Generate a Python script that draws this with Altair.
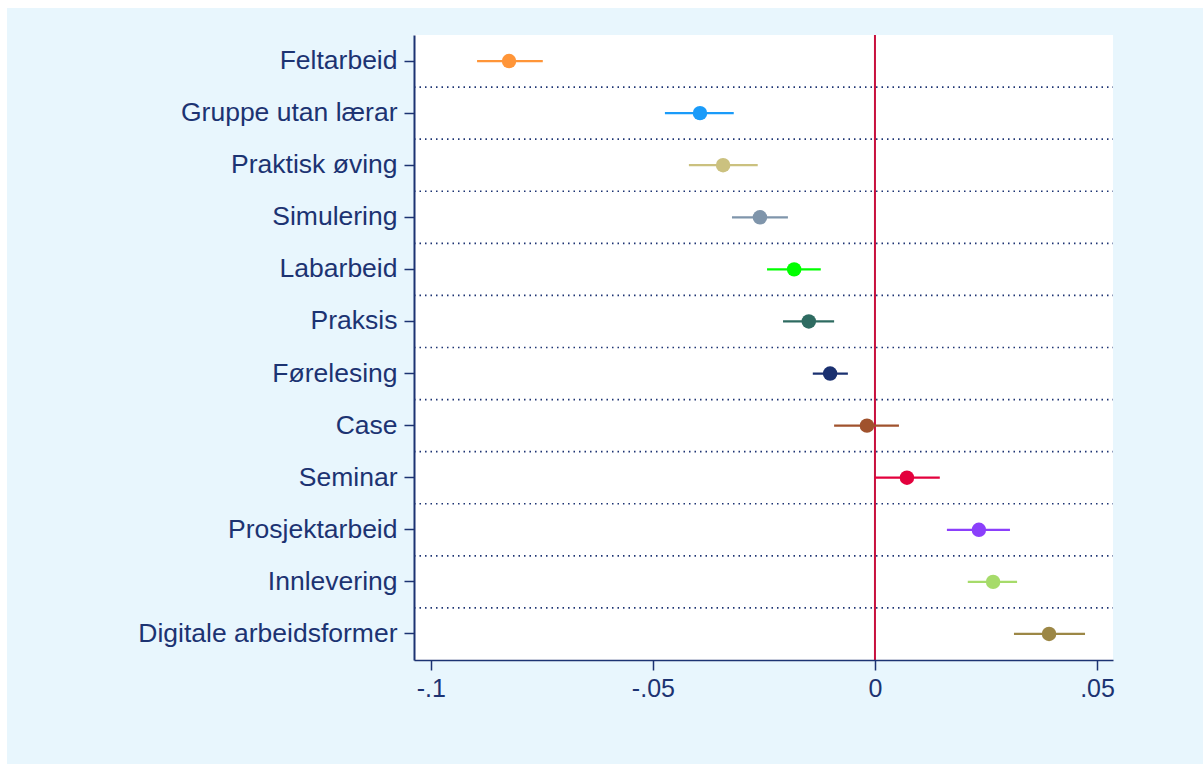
import altair as alt
import pandas as pd

categories = ["Feltarbeid", "Gruppe utan lærar", "Praktisk øving", "Simulering",
              "Labarbeid", "Praksis", "Førelesing", "Case", "Seminar",
              "Prosjektarbeid", "Innlevering", "Digitale arbeidsformer"]
estimates = [-0.0824, -0.0394, -0.0342, -0.0259, -0.0182, -0.0149, -0.0101,
             -0.0018, 0.0072, 0.0234, 0.0266, 0.0392]
ci_low = [-0.0896, -0.0473, -0.0419, -0.0322, -0.0243, -0.0207, -0.0140,
          -0.0092, 0.0000, 0.0162, 0.0209, 0.0313]
ci_high = [-0.0748, -0.0318, -0.0264, -0.0196, -0.0122, -0.0092, -0.0061,
           0.0054, 0.0146, 0.0304, 0.0320, 0.0473]
colors = ["#ff9538", "#1a9bf9", "#cbc17f", "#7f95ab", "#00ff00", "#2e6b61",
          "#1a3070", "#a0522d", "#e3003d", "#8b3ffb", "#a6db6a", "#9c8746"]
xticks = [-0.1, -0.05, 0, 0.05]
xlabels = ["-.1", "-.05", "0", ".05"]

NAVY = "#1c3372"
BG = "#e8f6fd"
W, H = 699, 625
PAD_L, PAD_T, PAD_R, PAD_B = 414, 35, 90, 104

df = pd.DataFrame({"cat": categories, "est": estimates, "lo": ci_low, "hi": ci_high})
sep = pd.DataFrame({"cat": categories[1:]})
zero = pd.DataFrame({"x": [0.0]})

label_expr = "[" + ",".join(f"'{l}'" for l in xlabels) + "][indexof([" + \
    ",".join(str(v) for v in xticks) + "], datum.value)]"

xscale = alt.Scale(domain=[-0.1038, 0.0536], nice=False, zero=False)
yscale = alt.Scale(type="band", domain=categories, paddingInner=0, paddingOuter=0)
cscale = alt.Scale(domain=categories, range=colors)

xaxis = alt.Axis(values=xticks, labelExpr=label_expr, title=None, grid=False,
                 domainColor=NAVY, domainWidth=1.5, tickColor=NAVY, tickWidth=1.5,
                 tickSize=10, labelColor=NAVY, labelFontSize=25, labelPadding=6,
                 labelFont="Liberation Sans", zindex=2)
yaxis = alt.Axis(title=None, grid=False, domainColor=NAVY, domainWidth=2,
                 tickColor=NAVY, tickWidth=1.5, tickSize=10, labelColor=NAVY,
                 labelFontSize=26.5, labelPadding=7, labelFont="Liberation Sans",
                 labelLimit=0, zindex=2)

bg = alt.Chart(zero).mark_rect(color=BG).encode(
    x=alt.value(-PAD_L + 7), x2=alt.value(W + PAD_R),
    y=alt.value(-PAD_T + 8), y2=alt.value(H + PAD_B))

white = alt.Chart(zero).mark_rect(color="white").encode(
    x=alt.value(0), x2=alt.value(W), y=alt.value(0), y2=alt.value(H))

seps = alt.Chart(sep).mark_rule(color=NAVY, strokeWidth=1.6, strokeDash=[1.5, 4],
                                yOffset=-H / 24).encode(
    y=alt.Y("cat:N", scale=yscale, sort=categories, axis=yaxis),
    x=alt.value(0), x2=alt.value(W))

zline = alt.Chart(zero).mark_rule(color="#c8103e", strokeWidth=2).encode(
    x=alt.X("x:Q", scale=xscale, axis=xaxis))

bars = alt.Chart(df).mark_rule(strokeWidth=2.2).encode(
    x=alt.X("lo:Q", scale=xscale, axis=xaxis), x2="hi:Q",
    y=alt.Y("cat:N", scale=yscale, sort=categories, axis=yaxis),
    color=alt.Color("cat:N", scale=cscale, legend=None))

pts = alt.Chart(df).mark_circle(size=210, opacity=1).encode(
    x=alt.X("est:Q", scale=xscale, axis=xaxis),
    y=alt.Y("cat:N", scale=yscale, sort=categories, axis=yaxis),
    color=alt.Color("cat:N", scale=cscale, legend=None))

chart = alt.layer(bg, white, seps, zline, bars, pts).properties(
    width=W, height=H,
    autosize=alt.AutoSizeParams(type="none"),
    padding={"left": PAD_L, "top": PAD_T, "right": PAD_R, "bottom": PAD_B},
    background="white",
).configure_view(stroke=None, fill=None)

chart.save("out.html", embed_options={"renderer": "svg", "actions": False})
